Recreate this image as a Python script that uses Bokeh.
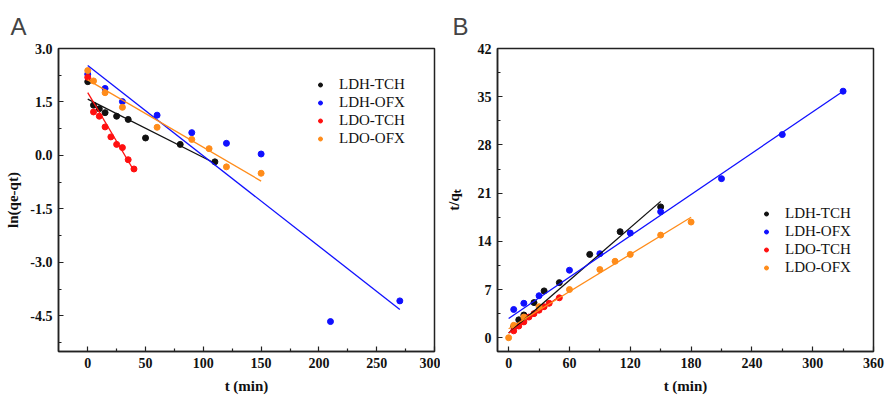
from bokeh.plotting import figure
from bokeh.models import FixedTicker, PrintfTickFormatter, Range1d
from bokeh.layouts import row
from bokeh.embed import file_html
from bokeh.resources import INLINE

# ---------------- data ----------------
series_names = ["LDH-TCH", "LDH-OFX", "LDO-TCH", "LDO-OFX"]

# Panel A: pseudo-first-order, ln(qe-qt) vs t
a_t_ldh_tch = [0, 5, 10, 15, 25, 35, 50, 80, 110]
a_v_ldh_tch = [2.07, 1.41, 1.31, 1.20, 1.10, 1.01, 0.49, 0.31, -0.18]
a_t_ldh_ofx = [0, 15, 30, 60, 90, 120, 150, 210, 270]
a_v_ldh_ofx = [2.28, 1.88, 1.51, 1.13, 0.64, 0.34, 0.04, -4.66, -4.08]
a_t_ldo_tch = [0, 5, 10, 15, 20, 25, 30, 35, 40]
a_v_ldo_tch = [2.19, 1.22, 1.10, 0.80, 0.52, 0.31, 0.22, -0.12, -0.38]
a_t_ldo_ofx = [0, 5, 15, 30, 60, 90, 105, 120, 150]
a_v_ldo_ofx = [2.38, 2.09, 1.76, 1.35, 0.79, 0.45, 0.19, -0.32, -0.50]

# Panel A fitted lines (end points)
a_fit_t_ldh_tch = [0, 110]
a_fit_v_ldh_tch = [1.58, -0.22]
a_fit_t_ldh_ofx = [0, 270]
a_fit_v_ldh_ofx = [2.52, -4.32]
a_fit_t_ldo_tch = [0, 40]
a_fit_v_ldo_tch = [1.76, -0.43]
a_fit_t_ldo_ofx = [0, 150]
a_fit_v_ldo_ofx = [2.12, -0.72]

# Panel B: pseudo-second-order, t/qt vs t
b_t_ldh_tch = [5, 10, 15, 25, 35, 50, 80, 110, 150]
b_v_ldh_tch = [1.6, 2.6, 3.3, 5.1, 6.8, 8.0, 12.1, 15.4, 19.0]
b_t_ldh_ofx = [5, 15, 30, 60, 90, 120, 150, 210, 270, 330]
b_v_ldh_ofx = [4.1, 5.0, 6.1, 9.8, 12.2, 15.2, 18.3, 23.1, 29.5, 35.8]
b_t_ldo_tch = [5, 10, 15, 20, 25, 30, 35, 40, 50]
b_v_ldo_tch = [1.0, 1.7, 2.3, 3.0, 3.5, 4.0, 4.5, 5.0, 5.8]
b_t_ldo_ofx = [0, 5, 15, 30, 60, 90, 105, 120, 150, 180]
b_v_ldo_ofx = [0.0, 1.8, 3.0, 4.5, 7.0, 9.9, 11.1, 12.1, 14.9, 16.8]

# Panel B fitted lines (end points)
b_fit_t_ldh_tch = [0, 150]
b_fit_v_ldh_tch = [0.7, 19.8]
b_fit_t_ldh_ofx = [0, 330]
b_fit_v_ldh_ofx = [2.8, 35.8]
b_fit_t_ldo_tch = [0, 50]
b_fit_v_ldo_tch = [0.7, 6.0]
b_fit_t_ldo_ofx = [0, 180]
b_fit_v_ldo_ofx = [1.3, 17.5]

# ticks
a_xticks = [0, 50, 100, 150, 200, 250, 300]
a_xminor = [25, 75, 125, 175, 225, 275]
a_yticks = [3.0, 1.5, 0.0, -1.5, -3.0, -4.5]
a_yminor = [2.25, 0.75, -0.75, -2.25, -3.75, -5.25]
b_xticks = [0, 60, 120, 180, 240, 300, 360]
b_xminor = [30, 90, 150, 210, 270, 330]
b_yticks = [0, 7, 14, 21, 28, 35, 42]
b_yminor = [3.5, 10.5, 17.5, 24.5, 31.5, 38.5]

colors = ["#111111", "#1010FF", "#FF1010", "#FF8C1A"]
SERIF = "Liberation Serif"
SANS = "Liberation Sans"
H = 402


def style(p, xt, xm, yt, ym, yfmt, xlabel, ylabel, panel, title_offset, ylab_standoff):
    p.xaxis.ticker = FixedTicker(ticks=xt, minor_ticks=xm)
    p.yaxis.ticker = FixedTicker(ticks=yt, minor_ticks=ym)
    p.yaxis.formatter = PrintfTickFormatter(format=yfmt)
    p.xaxis.formatter = PrintfTickFormatter(format="%d")
    for ax in (p.xaxis[0], p.yaxis[0]):
        ax.major_tick_in = 5
        ax.major_tick_out = 0
        ax.minor_tick_in = 3
        ax.minor_tick_out = 0
        ax.axis_line_width = 1.5
        ax.major_tick_line_width = 1.2
        ax.minor_tick_line_width = 1.2
        ax.axis_line_color = "#222222"
        ax.major_tick_line_color = "#222222"
        ax.minor_tick_line_color = "#222222"
        ax.major_label_text_font = SERIF
        ax.major_label_text_font_style = "bold"
        ax.major_label_text_font_size = "14px"
        ax.major_label_text_color = "#111111"
        ax.axis_label_text_font = SERIF
        ax.axis_label_text_font_style = "bold"
        ax.axis_label_text_font_size = "15px"
        ax.axis_label_text_color = "#111111"
    p.xaxis.major_label_standoff = 6
    p.yaxis.major_label_standoff = 6
    p.xaxis.axis_label = xlabel
    p.yaxis.axis_label = ylabel
    p.xaxis.axis_label_standoff = 7
    p.yaxis.axis_label_standoff = ylab_standoff
    p.xgrid.visible = False
    p.ygrid.visible = False
    p.outline_line_color = "#222222"
    p.outline_line_width = 1.5
    p.outline_line_alpha = 1.0
    p.title.text = panel
    p.title.text_font = SANS
    p.title.text_font_style = "normal"
    p.title.text_font_size = "24px"
    p.title.align = "left"
    p.title.offset = title_offset
    p.title.standoff = 17


def make(width, xr, yr, pts, fits, min_left, min_right):
    p = figure(width=width, height=H, output_backend="svg", toolbar_location=None,
               x_range=Range1d(*xr), y_range=Range1d(*yr),
               min_border_left=min_left, min_border_right=min_right,
               min_border_top=48, min_border_bottom=51,
               background_fill_color="white", border_fill_color="white")
    for (t, v), c, name in zip(pts, colors, series_names):
        p.scatter(t, v, size=6, fill_color=c, line_color=c, legend_label=name)
    for (t, v), c in zip(fits, colors):
        p.line(t, v, line_color=c, line_width=1.3)
    return p


pA = make(440, (-25.3, 300), (-5.5, 3.0),
          [(a_t_ldh_tch, a_v_ldh_tch), (a_t_ldh_ofx, a_v_ldh_ofx),
           (a_t_ldo_tch, a_v_ldo_tch), (a_t_ldo_ofx, a_v_ldo_ofx)],
          [(a_fit_t_ldh_tch, a_fit_v_ldh_tch), (a_fit_t_ldh_ofx, a_fit_v_ldh_ofx),
           (a_fit_t_ldo_tch, a_fit_v_ldo_tch), (a_fit_t_ldo_ofx, a_fit_v_ldo_ofx)],
          58, 6)
style(pA, a_xticks, a_xminor, a_yticks, a_yminor, "%.1f", "t (min)", "ln(qe-qt)", "A", -48, 6)

pB = make(445, (-11, 360), (-2, 42),
          [(b_t_ldh_tch, b_v_ldh_tch), (b_t_ldh_ofx, b_v_ldh_ofx),
           (b_t_ldo_tch, b_v_ldo_tch), (b_t_ldo_ofx, b_v_ldo_ofx)],
          [(b_fit_t_ldh_tch, b_fit_v_ldh_tch), (b_fit_t_ldh_ofx, b_fit_v_ldh_ofx),
           (b_fit_t_ldo_tch, b_fit_v_ldo_tch), (b_fit_t_ldo_ofx, b_fit_v_ldo_ofx)],
          57, 12)
style(pB, b_xticks, b_xminor, b_yticks, b_yminor, "%d", "t (min)", "t/qₜ", "B", -45, 13)


def legend_style(p, loc, standoff):
    lg = p.legend[0]
    lg.location = loc
    lg.border_line_alpha = 0
    lg.background_fill_alpha = 0
    lg.padding = 0
    lg.margin = 0
    lg.spacing = 1
    lg.glyph_width = 10
    lg.glyph_height = 17
    lg.label_height = 17
    lg.label_standoff = standoff
    lg.label_text_font = SERIF
    lg.label_text_font_size = "15px"
    lg.label_text_color = "#111111"


legend_style(pA, (257, 204), 14)
legend_style(pB, (264, 75), 14)

layout = row(pA, pB)
open("out.html", "w").write(file_html(layout, INLINE))
